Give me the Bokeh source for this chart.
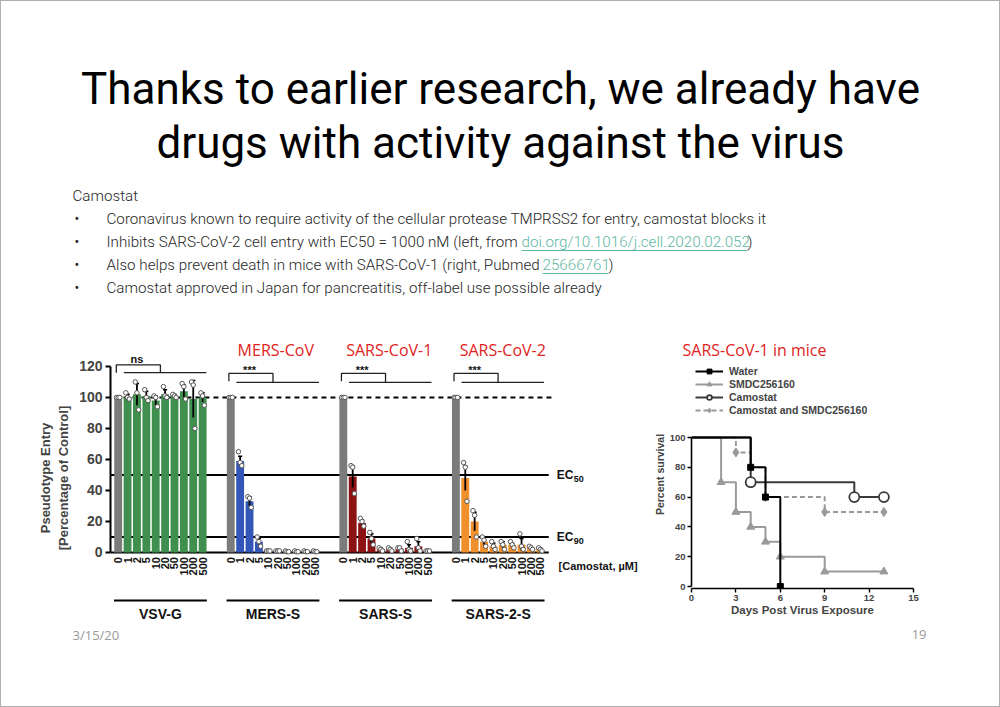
import numpy as np
from bokeh.plotting import figure
from bokeh.models import Range1d, Legend, LegendItem, FixedTicker
from bokeh.layouts import column, row
from bokeh.core.properties import value
from bokeh.embed import file_html
from bokeh.resources import INLINE

# ---------------- data ----------------
title_lines = ["Thanks to earlier research, we already have",
               "drugs with activity against the virus"]
section_head = "Camostat"
bullet_texts = [
    "Coronavirus known to require activity of the cellular protease TMPRSS2 for entry, camostat blocks it",
    "Inhibits SARS-CoV-2 cell entry with EC50 = 1000 nM (left, from ",
    "Also helps prevent death in mice with SARS-CoV-1 (right, Pubmed ",
    "Camostat approved in Japan for pancreatitis, off-label use possible already",
]
link_texts = ["doi.org/10.1016/j.cell.2020.02.052", "25666761"]
footer_date = "3/15/20"
footer_page = "19"

conc_labels = ["0", "1", "2", "5", "10", "20", "50", "100", "200", "500"]
groups = ["VSV-G", "MERS-S", "SARS-S", "SARS-2-S"]
virus_titles = ["MERS-CoV", "SARS-CoV-1", "SARS-CoV-2"]
stat_marks = ["ns", "***", "***", "***"]
group_colors = ["#3f8f4f", "#3456b8", "#8c1214", "#f0902c"]
control_color = "#7b7b7b"

vsv_mean = [100, 100, 102, 101, 98, 102, 101, 104, 99, 100]
vsv_err = [0, 2, 7, 3, 3, 3, 1, 4, 12, 3]
vsv_reps = [[100, 100, 100], [103, 100, 99], [110, 103, 92], [105, 100, 98], [101, 100, 94],
            [107, 101, 100], [102, 101, 100], [109, 107, 99], [110, 108, 80], [103, 101, 95]]
mers_mean = [100, 59, 33, 7, 1, 0.5, 0.5, 0.5, 0.5, 0.5]
mers_err = [0, 3, 3, 2, 0, 0, 0, 0, 0, 0]
mers_reps = [[100, 100, 100], [65, 58, 56], [36, 35, 29], [10, 7, 4], [1, 1, 1],
             [1, 1, 1], [1, 0.5, 0.5], [1, 0.5, 0.5], [1, 0.5, 0.5], [1, 0.5, 0.5]]
sars_mean = [100, 49, 19, 9, 2, 2, 2.5, 3, 4, 1]
sars_err = [0, 7, 2, 3, 1, 1, 1, 2, 3, 0.5]
sars_reps = [[100, 100, 100], [56, 55, 38], [22, 20, 17], [13, 9, 5], [3, 2, 1],
             [3, 2, 1], [3, 3, 1], [7, 2, 1], [9, 3, 1], [1, 1, 1]]
sars2_mean = [100, 48, 20, 7, 4, 5, 5, 5, 3, 2]
sars2_err = [0, 8, 6, 2, 2, 2, 1, 4, 1, 1]
sars2_reps = [[100, 100, 100], [58, 55, 33], [27, 24, 10], [10, 8, 4], [7, 4, 2],
              [7, 5, 2], [7, 5, 3], [12, 4, 2], [4, 3, 2], [3, 2, 1]]
ec_levels = [50, 10]
ec_names = ["50", "90"]
control_level = 100
bracket_top = [121, 115.5, 115.5, 115.5]
bracket_low = [116, 109.7, 109.7, 109.7]
stat_y = [124.5, 117.4, 117.4, 117.4]

surv_title = "SARS-CoV-1 in mice"
water_days = [0, 4, 5, 6]
water_surv = [100, 80, 60, 0]
smdc_days = [0, 2, 3, 4, 5, 6, 9, 13]
smdc_surv = [100, 70, 50, 40, 30, 20, 10, 10]
camo_days = [0, 4, 11, 13]
camo_surv = [100, 70, 60, 60]
combo_days = [0, 3, 4, 5, 9, 13]
combo_surv = [100, 90, 80, 60, 50, 50]

ARIAL = value("Liberation Sans")
ROBOTO = value("Roboto")
ROBOTO_L = value("Roboto Light, Roboto")
OPEN = value("Open Sans")
BODY_SIZE = "15.2px"


def blank(w, h, yr):
    f = figure(width=w, height=h, x_range=Range1d(0, w), y_range=Range1d(yr, 0),
               toolbar_location=None, output_backend="svg", min_border=0,
               x_axis_location=None, y_axis_location=None)
    f.outline_line_color = None
    f.grid.visible = False
    return f


# ---------------- top: title and bullets ----------------
top = blank(998, 324, 324)
top.text(x=[499, 499], y=[87, 141], text=title_lines, text_font=ROBOTO,
         text_font_size="44px", text_align="center", text_baseline="middle", text_color="#000000")
top.text(x=[71], y=[194], text=[section_head], text_font=ROBOTO_L, text_font_size=BODY_SIZE,
         text_baseline="middle", text_color="#262626")
by = [217, 240, 263, 286]
top.text(x=[73] * 4, y=by, text=["\u2022"] * 4, text_font=ROBOTO, text_font_size="14px",
         text_baseline="middle", text_color="#262626")
top.text(x=[105] * 4, y=by, text=bullet_texts, text_font=ROBOTO_L, text_font_size=BODY_SIZE,
         text_baseline="middle", text_color="#262626")
link_x = [520, 541]
link_end = [746, 607]
top.text(x=link_x, y=by[1:3], text=link_texts, text_font=ROBOTO_L, text_font_size=BODY_SIZE,
         text_baseline="middle", text_color="#5fb8a6")
top.segment(x0=link_x, x1=link_end, y0=[b + 9 for b in by[1:3]], y1=[b + 9 for b in by[1:3]],
            line_color="#5fb8a6", line_width=1)
top.text(x=link_end, y=by[1:3], text=[")", ")"], text_font=ROBOTO_L, text_font_size=BODY_SIZE,
         text_baseline="middle", text_color="#262626")

# ---------------- bar chart ----------------
B = figure(width=639, height=300, x_range=Range1d(-0.82, 55.68), y_range=Range1d(-47.1, 143.2),
           toolbar_location=None, output_backend="svg", x_axis_location=None,
           min_border_left=109, min_border_right=0, min_border_top=5, min_border_bottom=0)
B.outline_line_color = None
B.grid.visible = False
ya = B.yaxis[0]
ya.bounds = (0, 120)
ya.ticker = FixedTicker(ticks=[0, 20, 40, 60, 80, 100, 120])
ya.major_label_text_font = "Liberation Sans"
ya.major_label_text_font_style = "bold"
ya.major_label_text_font_size = "14px"
ya.major_label_standoff = 3
ya.axis_line_width = 2
ya.major_tick_line_width = 2
ya.major_tick_out = 5
ya.major_tick_in = 0
ya.minor_tick_out = 0
ya.minor_tick_in = 0
ya.axis_label = "Pseudotype Entry\n[Percentage of Control]"
ya.axis_label_text_font = "Liberation Sans"
ya.axis_label_text_font_style = "bold"
ya.axis_label_text_font_size = "13px"
ya.axis_label_standoff = 5

means = [vsv_mean, mers_mean, sars_mean, sars2_mean]
errs = [vsv_err, mers_err, sars_err, sars2_err]
reps = [vsv_reps, mers_reps, sars_reps, sars2_reps]
step = 12

# reference lines
end_x = 3 * step + 9.9
B.segment(x0=[-0.82, -0.82, -0.82], x1=[end_x] * 3, y0=ec_levels + [0], y1=ec_levels + [0],
          line_color="black", line_width=2)
B.segment(x0=[-0.4], x1=[end_x + 0.5], y0=[control_level], y1=[control_level],
          line_color="black", line_width=2, line_dash="5 4")

for g in range(4):
    xs = [g * step + i for i in range(len(conc_labels))]
    cols = [control_color] + [group_colors[g]] * (len(conc_labels) - 1)
    B.vbar(x=xs, top=means[g], width=0.84, bottom=0, fill_color=cols, line_color=None)
    m = np.array(means[g], dtype=float)
    e = np.array(errs[g], dtype=float)
    B.segment(x0=xs, x1=xs, y0=m - e, y1=m + e, line_color="black", line_width=1.8)
    B.segment(x0=[x - 0.22 for x in xs], x1=[x + 0.22 for x in xs], y0=m + e, y1=m + e,
              line_color="black", line_width=1.5)
    px, py = [], []
    for i, r in enumerate(reps[g]):
        for k, v in enumerate(r):
            px.append(xs[i] + (k - 1) * 0.18)
            py.append(v)
    B.scatter(x=px, y=py, size=4.5, marker="circle", fill_color="white", line_color="#555555",
              line_width=1)
    # brackets
    gx = g * step
    bt, bl = bracket_top[g], bracket_low[g]
    B.line(x=[gx - 0.2, gx - 0.2, gx + 4.5, gx + 4.5], y=[bt - 5, bt, bt, bl],
           line_color="#222222", line_width=1.3)
    B.segment(x0=[gx + 0.6], x1=[gx + 9.4], y0=[bl], y1=[bl], line_color="#222222", line_width=1.3)
    # concentration labels
    B.text(x=xs, y=[-3] * len(xs), text=conc_labels, angle=np.pi / 2, text_align="right",
           text_baseline="middle", text_font=ARIAL, text_font_style="bold", text_font_size="11px",
           text_color="#111111")
    B.segment(x0=[gx - 0.45], x1=[gx + 9.45], y0=[-31], y1=[-31], line_color="black", line_width=2)

B.text(x=[g * step + 4.5 for g in range(4)], y=[-39.5] * 4, text=groups, text_align="center",
       text_baseline="middle", text_font=ARIAL, text_font_style="bold", text_font_size="14px",
       text_color="#111111")
B.text(x=[g * step + 2.0 for g in range(4)], y=stat_y, text=stat_marks, text_align="center",
       text_baseline="middle", text_font=ARIAL, text_font_style="bold", text_font_size="11px",
       text_color="#111111")
B.text(x=[16.8, 28.9, 41.0], y=[130.5] * 3, text=virus_titles, text_align="center",
       text_baseline="middle", text_font=OPEN, text_font_size="16px", text_color="#e0231c")
ec_x = end_x + 0.85
B.text(x=[ec_x] * 2, y=ec_levels, text=["EC", "EC"], text_align="left", text_baseline="middle",
       text_font=ARIAL, text_font_style="bold", text_font_size="12px", text_color="#111111")
B.text(x=[ec_x] * 2, y=ec_levels, text=ec_names, text_align="left", text_baseline="middle",
       x_offset=17, y_offset=4, text_font=ARIAL, text_font_style="bold", text_font_size="9px",
       text_color="#111111")
B.text(x=[ec_x + 0.2], y=[-8.4], text=["[Camostat, \u00b5M]"], text_align="left", text_baseline="middle",
       text_font=ARIAL, text_font_style="bold", text_font_size="11px", text_color="#111111")

# ---------------- survival chart ----------------
C = figure(width=359, height=300, x_range=Range1d(0, 15), y_range=Range1d(-1.34, 151.7),
           toolbar_location=None, output_backend="svg",
           min_border_left=51, min_border_right=86, min_border_top=35, min_border_bottom=37)
C.outline_line_color = None
C.grid.visible = False
C.title.text = surv_title
C.title.text_color = "#e0231c"
C.title.text_font = "Open Sans"
C.title.text_font_style = "normal"
C.title.text_font_size = "16px"
C.title.align = "left"
C.title.offset = -9
C.title.standoff = 0
for ax in (C.xaxis[0], C.yaxis[0]):
    ax.major_label_text_font = "Liberation Sans"
    ax.major_label_text_font_style = "bold"
    ax.major_label_text_font_size = "9.5px"
    ax.axis_line_width = 1.6
    ax.major_tick_line_width = 1.4
    ax.major_tick_out = 4
    ax.major_tick_in = 0
    ax.minor_tick_out = 0
    ax.minor_tick_in = 0
    ax.axis_label_text_font = "Liberation Sans"
    ax.axis_label_text_font_style = "bold"
    ax.major_label_standoff = 2
C.xaxis.ticker = FixedTicker(ticks=[0, 3, 6, 9, 12, 15])
C.yaxis.ticker = FixedTicker(ticks=[0, 20, 40, 60, 80, 100])
C.yaxis.bounds = (0, 100)
C.xaxis.axis_label = "Days Post Virus Exposure"
C.xaxis.axis_label_text_font_size = "11.5px"
C.xaxis.axis_label_standoff = 0
C.yaxis.axis_label = "Percent survival"
C.yaxis.axis_label_text_font_size = "10.5px"
C.yaxis.axis_label_standoff = 1

gray = "#9a9a9a"
cb_l = C.step(x=combo_days, y=combo_surv, mode="after", line_color=gray, line_width=2, line_dash="5 3")
cb_p = C.scatter(x=combo_days[1:], y=combo_surv[1:], marker="diamond", size=9, fill_color=gray,
                 line_color=gray)
sm_l = C.step(x=smdc_days, y=smdc_surv, mode="after", line_color=gray, line_width=2)
sm_p = C.scatter(x=smdc_days[1:], y=smdc_surv[1:], marker="triangle", size=8, fill_color=gray,
                 line_color=gray)
ca_l = C.step(x=camo_days, y=camo_surv, mode="after", line_color="#3a3a3a", line_width=2)
ca_p = C.scatter(x=camo_days[1:], y=camo_surv[1:], marker="circle", size=10, fill_color="white",
                 line_color="#3a3a3a", line_width=1.8)
wa_l = C.step(x=water_days, y=water_surv, mode="after", line_color="black", line_width=2)
wa_p = C.scatter(x=water_days[1:], y=water_surv[1:], marker="square", size=6, fill_color="black",
                 line_color="black")

legend = Legend(items=[
    LegendItem(label="Water", renderers=[wa_l, wa_p]),
    LegendItem(label="SMDC256160", renderers=[sm_l, sm_p]),
    LegendItem(label="Camostat", renderers=[ca_l, ca_p]),
    LegendItem(label="Camostat and SMDC256160", renderers=[cb_l, cb_p]),
], location=(4, 172), orientation="vertical", margin=0, padding=2, spacing=1,
    glyph_width=28, glyph_height=12, label_height=12, label_standoff=6,
    label_text_font="Liberation Sans", label_text_font_style="bold", label_text_font_size="10.5px",
    border_line_color=None, background_fill_alpha=0)
C.add_layout(legend)

# ---------------- footer ----------------
bottom = blank(998, 81, 81)
bottom.text(x=[71], y=[9], text=[footer_date], text_font=OPEN, text_font_size="13px",
            text_baseline="middle", text_color="#9a9a9a")
bottom.text(x=[925], y=[9], text=[footer_page], text_font=OPEN, text_font_size="13px",
            text_baseline="middle", text_align="right", text_color="#9a9a9a")

layout = column(top, row(B, column(C)), bottom,
                styles={"border": "1px solid #b0b0b0"})

open("out.html", "w").write(file_html(layout, INLINE))
